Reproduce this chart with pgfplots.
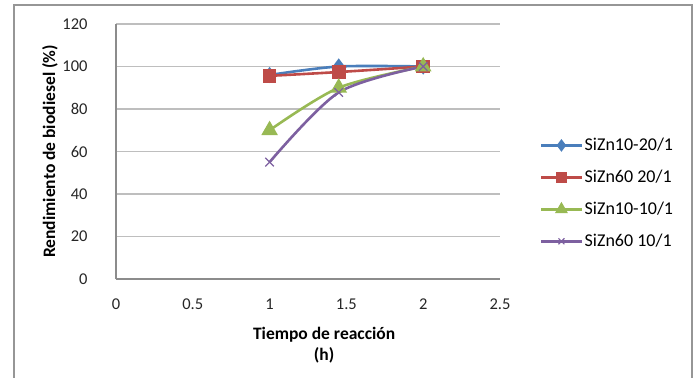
\documentclass[border=0pt]{standalone}
\usepackage{pgfplots}
\pgfplotsset{compat=1.18}
\usepackage{fontspec}
\setmainfont{Carlito}
\definecolor{cblue}{RGB}{74,126,187}
\definecolor{cred}{RGB}{190,75,72}
\definecolor{cgreen}{RGB}{152,185,84}
\definecolor{cpurple}{RGB}{125,96,160}
\definecolor{gridc}{RGB}{190,190,190}
\definecolor{axc}{RGB}{140,140,140}
\definecolor{framec}{RGB}{150,150,150}
\begin{document}
\begin{tikzpicture}
\path[use as bounding box] (0bp,0bp) rectangle (696bp,-378bp);
\draw[framec, line width=1.5bp] (14bp,-378bp) -- (14bp,-5bp) -- (692bp,-5bp) -- (692bp,-378bp);
\begin{axis}[
  at={(116bp,-279bp)}, anchor=south west,
  scale only axis, width=384bp, height=255bp,
  xmin=0, xmax=2.5, ymin=0, ymax=120,
  xtick={0,0.5,1,1.5,2,2.5},
  ytick={0,20,40,60,80,100,120},
  xticklabels={0,0.5,1,1.5,2,2.5},
  major tick length=0pt,
  axis lines=left,
  axis line style={-, axc, line width=1.2bp},
  ymajorgrids,
  grid style={gridc, line width=1.3bp},
  /pgf/number format/assume math mode=true,
  tick label style={font=\fontsize{16.5bp}{20bp}\selectfont, text=black!85},
  yticklabel style={xshift=-25bp},
  xticklabel style={yshift=-16bp},
  xlabel={Tiempo de reacción\\(h)},
  ylabel={Rendimiento de biodiesel (\%)},
  label style={font=\bfseries\fontsize{17.5bp}{21bp}\selectfont},
  xlabel style={at={(axis description cs:0.542,-0.175)}, anchor=north, align=center},
  ylabel style={at={(axis description cs:-0.172,0.5)}, anchor=center},
  legend style={at={(axis description cs:1.104,0.56)}, anchor=north west, draw=none, fill=none,
    font=\fontsize{18bp}{21bp}\selectfont, row sep=14bp, inner sep=0pt},
  legend cell align=left,
  legend image code/.code={\draw[mark repeat=2,mark phase=2] plot coordinates {(0bp,0bp)(20bp,0bp)(40bp,0bp)};},
  legend image post style={every mark/.append style={scale=0.7}},
  every axis plot/.append style={line width=2.6bp, smooth, tension=0.5},
  clip=false,
]
\addplot[cblue, mark=diamond*, mark size=6bp, mark options={solid}] coordinates {(1,96) (1.45,100) (2,100)};
\addlegendentry{SiZn10-20/1}
\addplot[cred, mark=square*, mark size=5.5bp] coordinates {(1,95.6) (1.45,97.4) (2,100)};
\addlegendentry{SiZn60 20/1}
\addplot[cgreen, mark=triangle*, mark size=7bp] coordinates {(1,70) (1.45,90) (2,100)};
\addlegendentry{SiZn10-10/1}
\addplot[cpurple, mark=x, mark size=6bp, mark options={line width=1.2bp}] coordinates {(1,55) (1.45,87.8) (2,100)};
\addlegendentry{SiZn60 10/1}
\end{axis}
\end{tikzpicture}
\end{document}
